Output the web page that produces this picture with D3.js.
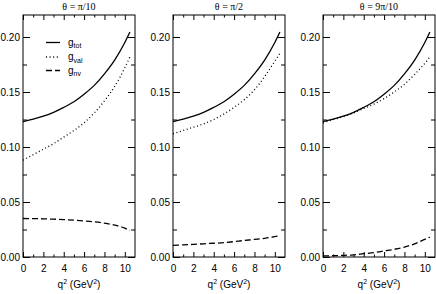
<!DOCTYPE html>
<html>
<head>
<meta charset="utf-8">
<script src="https://d3js.org/d3.v7.min.js"></script>
<style>
  body { margin: 0; background: #fff; }
  svg text { font-family: "Liberation Sans", Arial, sans-serif; }
</style>
</head>
<body>
<div id="chart"></div>
<script>
// values (q^2 in GeV^2)
const qVals = [0, 1, 2, 3, 4, 5, 6, 7, 8, 9, 10, 10.5];

const gTot = [0.123, 0.1253, 0.128, 0.1315, 0.136, 0.1412, 0.148, 0.156, 0.1665, 0.179, 0.195, 0.2045];

const gVal1 = [0.088, 0.093, 0.098, 0.103, 0.109, 0.115, 0.122, 0.131, 0.142, 0.155, 0.172, 0.182];
const gNv1  = [0.035, 0.0349, 0.0347, 0.0344, 0.034, 0.0335, 0.0328, 0.032, 0.0308, 0.029, 0.0262, 0.024];

const gVal2 = [0.112, 0.115, 0.118, 0.121, 0.125, 0.130, 0.136, 0.143, 0.152, 0.164, 0.178, 0.185];
const gNv2  = [0.0105, 0.011, 0.0115, 0.012, 0.0125, 0.013, 0.014, 0.015, 0.016, 0.017, 0.0185, 0.0195];

const gVal3 = [0.122, 0.125, 0.1275, 0.131, 0.135, 0.139, 0.144, 0.150, 0.157, 0.166, 0.176, 0.182];
const gNv3  = [0.001, 0.0012, 0.0015, 0.002, 0.003, 0.004, 0.0055, 0.007, 0.009, 0.012, 0.016, 0.018];

const panelTitles = ["θ = π/10", "θ = π/2", "θ = 9π/10"];
const legendNames = ["tot", "val", "nv"];

const xMajor = [0, 2, 4, 6, 8, 10];
const xMinor = [1, 3, 5, 7, 9];
const yMajor = [0, 0.05, 0.10, 0.15, 0.20];
const yMinor = [0.025, 0.075, 0.125, 0.175];

const panels = [
  { title: panelTitles[0], tot: gTot, val: gVal1, nv: gNv1 },
  { title: panelTitles[1], tot: gTot, val: gVal2, nv: gNv2 },
  { title: panelTitles[2], tot: gTot, val: gVal3, nv: gNv3 }
];

const W = 436, H = 294;
const lefts = [23, 173, 323], pw = 112, plotTop = 15, plotBottom = 257;

const styles = {
  tot: { dash: null, width: 1.3 },
  val: { dash: "1,2.6", width: 1.3 },
  nv:  { dash: "6,3", width: 1.3 }
};

const svg = d3.select("#chart").append("svg")
  .attr("width", W).attr("height", H);

const y = d3.scaleLinear().domain([0, 0.22]).range([plotBottom, plotTop]);

panels.forEach((p, i) => {
  const x = d3.scaleLinear().domain([0, 11]).range([0, pw]);
  const g = svg.append("g").attr("transform", "translate(" + lefts[i] + ",0)");

  // ticks, pointing inward on all four sides
  const ax = [
    d3.axisBottom(x).tickValues(xMajor).tickSize(-5).tickPadding(8).tickFormat(d3.format("d")),
    d3.axisTop(x).tickValues(xMajor).tickSize(-5).tickFormat(""),
    d3.axisBottom(x).tickValues(xMinor).tickSize(-2.5).tickFormat(""),
    d3.axisTop(x).tickValues(xMinor).tickSize(-2.5).tickFormat("")
  ];
  ax.forEach((a, k) => {
    g.append("g").attr("class", "ax")
      .attr("transform", "translate(0," + (k % 2 === 0 ? plotBottom : plotTop) + ")")
      .call(a);
  });
  const ay = [
    d3.axisLeft(y).tickValues(yMajor).tickSize(-7).tickPadding(3).tickFormat(d3.format(".2f")),
    d3.axisRight(y).tickValues(yMajor).tickSize(-7).tickFormat(""),
    d3.axisLeft(y).tickValues(yMinor).tickSize(-4).tickFormat(""),
    d3.axisRight(y).tickValues(yMinor).tickSize(-4).tickFormat("")
  ];
  ay.forEach((a, k) => {
    g.append("g").attr("class", "ax")
      .attr("transform", "translate(" + (k % 2 === 0 ? 0 : pw) + ",0)")
      .call(a);
  });
  g.selectAll(".ax .domain").remove();
  g.selectAll(".ax line").attr("stroke", "#000");
  g.selectAll(".ax text").attr("font-size", 10).attr("fill", "#000")
    .attr("font-family", "Liberation Sans, Arial, sans-serif");

  g.append("rect")
    .attr("x", 0).attr("y", plotTop)
    .attr("width", pw).attr("height", plotBottom - plotTop)
    .attr("fill", "none").attr("stroke", "#000").attr("stroke-width", 1);

  // curves
  ["tot", "val", "nv"].forEach(key => {
    const line = d3.line()
      .x((d, j) => x(qVals[j]))
      .y(d => y(d))
      .curve(d3.curveMonotoneX);
    g.append("path")
      .datum(p[key])
      .attr("d", line)
      .attr("fill", "none")
      .attr("stroke", "#000")
      .attr("stroke-width", styles[key].width)
      .attr("stroke-dasharray", styles[key].dash);
  });

  // title
  g.append("text")
    .attr("x", pw / 2).attr("y", 10)
    .attr("text-anchor", "middle")
    .attr("font-size", 10)
    .style("font-family", "Liberation Serif, Times New Roman, serif")
    .text(p.title);

  // x label
  const xl = g.append("text")
    .attr("x", pw / 2).attr("y", 288)
    .attr("text-anchor", "middle")
    .attr("font-size", 10);
  xl.append("tspan").text("q");
  xl.append("tspan").attr("dy", -4).attr("font-size", 7).text("2");
  xl.append("tspan").attr("dy", 4).text(" (GeV");
  xl.append("tspan").attr("dy", -4).attr("font-size", 7).text("2");
  xl.append("tspan").attr("dy", 4).text(")");

  // legend in first panel
  if (i === 0) {
    const ly = [42.5, 57, 70.5];
    ["tot", "val", "nv"].forEach((key, k) => {
      g.append("line")
        .attr("x1", 23).attr("x2", 37)
        .attr("y1", ly[k]).attr("y2", ly[k])
        .attr("stroke", "#000")
        .attr("stroke-width", styles[key].width)
        .attr("stroke-dasharray", styles[key].dash);
      const t = g.append("text")
        .attr("x", 45).attr("y", ly[k] + 3)
        .attr("font-size", 10);
      t.append("tspan").text("g");
      t.append("tspan").attr("dy", 2.5).attr("font-size", 7).text(legendNames[k]);
    });
  }
});
</script>
</body>
</html>
